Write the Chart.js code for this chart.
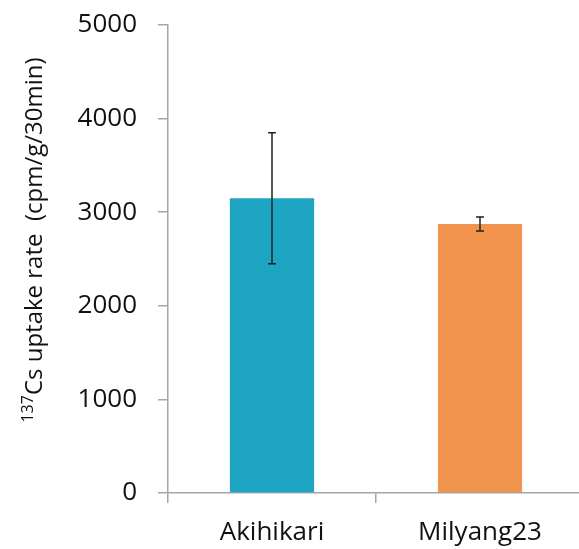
<!DOCTYPE html>
<html>
<head>
<meta charset="utf-8">
<script src="https://cdn.jsdelivr.net/npm/chart.js@4"></script>
<style>
  html, body { margin: 0; padding: 0; background: #fff; overflow: hidden; }
  #wrap { width: 585px; height: 549px; }
</style>
</head>
<body>
<div id="wrap"><canvas id="myChart1"></canvas></div>
<script>
// data
const categories = ["Akihikari", "Milyang23"];
const uptakeRate = [3150, 2875];
const uptakeError = [700, 75];
const barColors = ["#1FA5C4", "#F0944E"];
const yTicks = [0, 1000, 2000, 3000, 4000, 5000];

const FONT = "'Open Sans', Lato, sans-serif";
const axisGray = "#a6a6a6";

// error bars drawn through the scales
const errorBarPlugin = {
  id: "errorBars",
  afterDatasetsDraw(chart) {
    const ctx = chart.ctx;
    const meta = chart.getDatasetMeta(0);
    const y = chart.scales.y;
    ctx.save();
    ctx.strokeStyle = "#222";
    ctx.lineWidth = 1.5;
    meta.data.forEach(function (bar, i) {
      const top = y.getPixelForValue(uptakeRate[i] + uptakeError[i]);
      const bot = y.getPixelForValue(uptakeRate[i] - uptakeError[i]);
      ctx.beginPath();
      ctx.moveTo(bar.x, top);
      ctx.lineTo(bar.x, bot);
      ctx.moveTo(bar.x - 4, top);
      ctx.lineTo(bar.x + 4, top);
      ctx.moveTo(bar.x - 4, bot);
      ctx.lineTo(bar.x + 4, bot);
      ctx.stroke();
    });
    ctx.restore();
  }
};

// y axis title with superscript 137
const yTitlePlugin = {
  id: "yTitle",
  afterDraw(chart) {
    const ctx = chart.ctx;
    const sup = "137";
    const main = "Cs uptake rate  (cpm/g/30min)";
    ctx.save();
    ctx.fillStyle = "#111";
    ctx.textBaseline = "alphabetic";
    ctx.font = "16px " + FONT;
    const wSup = ctx.measureText(sup).width;
    ctx.font = "24px " + FONT;
    const wMain = ctx.measureText(main).width;
    const total = wSup + wMain;
    ctx.translate(42, 240);
    ctx.rotate(-Math.PI / 2);
    ctx.font = "16px " + FONT;
    ctx.fillText(sup, -total / 2, -9);
    ctx.font = "24px " + FONT;
    ctx.fillText(main, -total / 2 + wSup, 0);
    ctx.restore();
  }
};

new Chart(document.getElementById("myChart1"), {
  type: "bar",
  data: {
    labels: categories,
    datasets: [
      {
        data: uptakeRate,
        backgroundColor: barColors,
        categoryPercentage: 1,
        barPercentage: 0.405,
      },
    ],
  },
  options: {
    responsive: true,
    maintainAspectRatio: false,
    animation: false,
    events: [],
    layout: { padding: { top: 25, right: 1, left: 0, bottom: 0 } },
    plugins: {
      legend: { display: false },
      tooltip: { enabled: false },
    },
    scales: {
      x: {
        border: { color: axisGray, width: 1.5 },
        grid: {
          drawOnChartArea: false,
          drawTicks: true,
          tickLength: 10,
          color: axisGray,
          lineWidth: 1.5,
        },
        ticks: {
          color: "#111",
          font: { family: FONT, size: 26 },
          padding: 14,
          maxRotation: 0,
        },
        afterFit(scale) { scale.height = 56; },
      },
      y: {
        min: 0,
        max: 5000,
        afterBuildTicks(scale) {
          scale.ticks = yTicks.map(function (v) { return { value: v }; });
        },
        border: { color: axisGray, width: 1.5 },
        grid: {
          drawOnChartArea: false,
          drawTicks: true,
          tickLength: 10,
          color: axisGray,
          lineWidth: 1.5,
        },
        ticks: {
          color: "#111",
          font: { family: FONT, size: 26 },
          padding: 21,
          callback: function (v) { return String(v); },
        },
        afterFit(scale) {
          scale.width = 168;
          scale.paddingTop = 0;
          scale.paddingBottom = 0;
        },
      },
    },
  },
  plugins: [errorBarPlugin, yTitlePlugin],
});
</script>
</body>
</html>
